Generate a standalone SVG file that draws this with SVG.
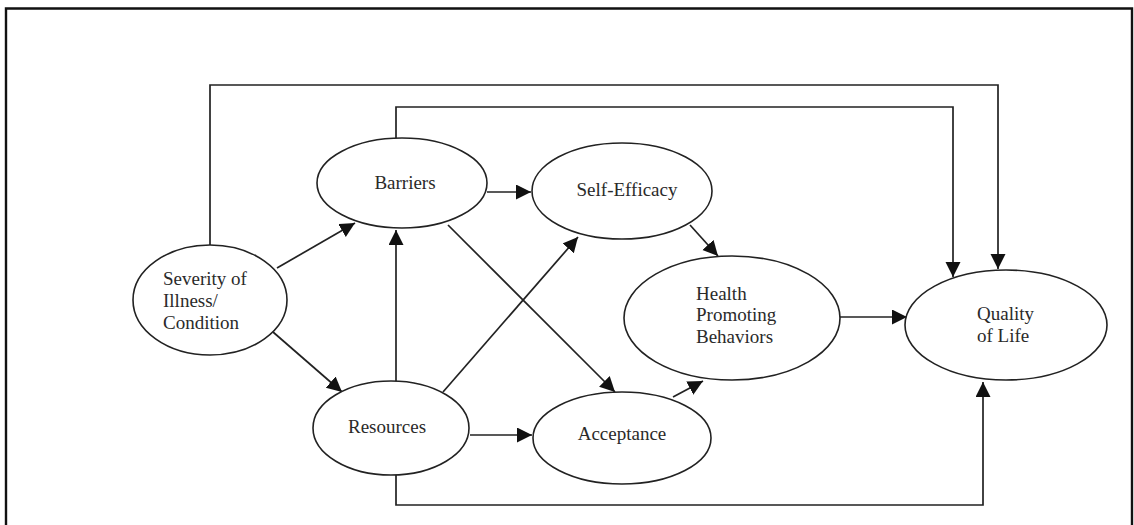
<svg xmlns="http://www.w3.org/2000/svg" width="1134" height="525" viewBox="0 0 1134 525">
<style>
.n ellipse{fill:#fff;stroke:#222;stroke-width:1.6}
.n text{font-family:"Liberation Serif","Times New Roman",serif;font-size:19px;fill:#2a2a2a}
.c{fill:none;stroke:#222;stroke-width:1.7}
.frame{fill:none;stroke:#111;stroke-width:2.4}
</style>
<defs>
<marker id="ah" markerUnits="userSpaceOnUse" markerWidth="16" markerHeight="16" refX="15" refY="7.5" orient="auto">
<path d="M0,0 L15,7.5 L0,15 z" fill="#111"/>
</marker>
</defs>
<rect width="1134" height="525" fill="#fff"/>
<path class="frame" d="M6,525 V8.5 H1132 V525"/>
<g id="connectors" class="c">
<path d="M210,245 V85 H998 V269" marker-end="url(#ah)"/>
<path d="M396,141 V107 H953 V277" marker-end="url(#ah)"/>
<path d="M396,475 V505 H983 V382" marker-end="url(#ah)"/>
<path d="M277,268 L355,223" marker-end="url(#ah)"/>
<path d="M273,332 L342,392" marker-end="url(#ah)"/>
<path d="M396,382 V230" marker-end="url(#ah)"/>
<path d="M487,192 H531" marker-end="url(#ah)"/>
<path d="M448,225 L615,392" marker-end="url(#ah)"/>
<path d="M443,392 L578,237" marker-end="url(#ah)"/>
<path d="M470,435 H532" marker-end="url(#ah)"/>
<path d="M690,225 L718,256" marker-end="url(#ah)"/>
<path d="M673,397 L703,381" marker-end="url(#ah)"/>
<path d="M840,317 H907" marker-end="url(#ah)"/>
</g>
<g id="severity" class="n">
<ellipse cx="210" cy="300" rx="77" ry="55"/>
<text x="163" y="285">Severity of</text>
<text x="163" y="307">Illness/</text>
<text x="163" y="329">Condition</text>
</g>
<g id="barriers" class="n">
<ellipse cx="402" cy="183" rx="85" ry="45"/>
<text x="405" y="189" text-anchor="middle">Barriers</text>
</g>
<g id="resources" class="n">
<ellipse cx="391" cy="428" rx="78" ry="47"/>
<text x="387" y="433" text-anchor="middle">Resources</text>
</g>
<g id="self-efficacy" class="n">
<ellipse cx="622" cy="191" rx="90" ry="48"/>
<text x="627" y="196" text-anchor="middle">Self-Efficacy</text>
</g>
<g id="acceptance" class="n">
<ellipse cx="622" cy="438" rx="89" ry="46"/>
<text x="622" y="440" text-anchor="middle">Acceptance</text>
</g>
<g id="health" class="n">
<ellipse cx="732" cy="318" rx="108" ry="62"/>
<text x="696" y="300">Health</text>
<text x="696" y="321">Promoting</text>
<text x="696" y="343">Behaviors</text>
</g>
<g id="quality" class="n">
<ellipse cx="1006" cy="325" rx="101" ry="55"/>
<text x="977" y="320">Quality</text>
<text x="977" y="342">of Life</text>
</g>
</svg>
